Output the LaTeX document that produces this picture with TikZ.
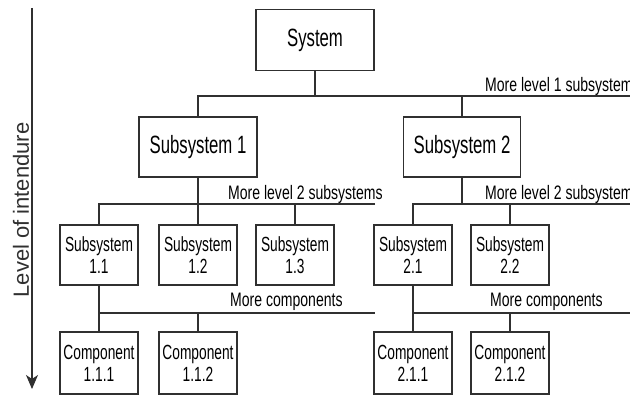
\documentclass[tikz,border=0pt]{standalone}
\usepackage{fontspec}
\setmainfont{Liberation Sans}
\newfontfamily\narrowfont{Liberation Sans}[FakeStretch=0.67]
\newfontfamily\notefont{Liberation Sans}[FakeStretch=0.72]
\usetikzlibrary{arrows.meta}
\definecolor{linec}{HTML}{303030}
\begin{document}
\begin{tikzpicture}[x=1pt,y=-1pt,
  box/.style={draw=linec, line width=1.6pt, fill=white, inner sep=0pt, align=center, text=black},
  bigbox/.style={box, minimum width=118pt, minimum height=61pt,
    font=\narrowfont\fontsize{25}{28}\selectfont},
  smallbox/.style={box, minimum width=78pt, minimum height=60pt,
    font=\narrowfont\fontsize{20.5}{22}\selectfont},
  wire/.style={draw=linec, line width=1.4pt},
  note/.style={font=\notefont\fontsize{19.5}{21}\selectfont, anchor=base west,
    inner sep=0pt, text=black}
]
\useasboundingbox (0,0) rectangle (630,396);
\clip (0,0) rectangle (630,396);

% levels of the hierarchy
\node[bigbox] (sys) at (315,40) {System};
\node[bigbox, minimum height=60pt] (s1) at (198,147) {Subsystem 1};
\node[bigbox, minimum height=60pt, minimum width=117pt] (s2) at (462,147) {Subsystem 2};

\node[smallbox] (s11) at (99,255)  {Subsystem\\1.1};
\node[smallbox] (s12) at (198,255) {Subsystem\\1.2};
\node[smallbox] (s13) at (295,255) {Subsystem\\1.3};
\node[smallbox] (s21) at (413,255) {Subsystem\\2.1};
\node[smallbox] (s22) at (510,255) {Subsystem\\2.2};

\node[smallbox, minimum height=62pt] (c111) at (99,363)  {Component\\1.1.1};
\node[smallbox, minimum height=62pt] (c112) at (198,363) {Component\\1.1.2};
\node[smallbox, minimum height=62pt] (c211) at (413,363) {Component\\2.1.1};
\node[smallbox, minimum height=62pt] (c212) at (510,363) {Component\\2.1.2};

% bus lines
\coordinate (b1L) at (s1.north |- 0,96);
\coordinate (b1R) at (630,96);
\coordinate (b2aL) at (s11.north |- 0,204);
\coordinate (b2aR) at (375,204);
\coordinate (b2bL) at (s21.north |- 0,204);
\coordinate (b2bR) at (630,204);
\coordinate (b3aL) at (s11.south |- 0,313);
\coordinate (b3aR) at (375,313);
\coordinate (b3bL) at (s21.south |- 0,313);
\coordinate (b3bR) at (630,313);

% level 1
\draw[wire] (sys.south) -- (sys.south |- b1L);
\draw[wire] (b1R) -- (b1L) -- (s1.north);
\draw[wire] (s2.north |- b1L) -- (s2.north);

% level 2
\draw[wire] (s1.south) -- (s12.north);
\draw[wire] (b2aR) -- (b2aL) -- (s11.north);
\draw[wire] (s13.north |- b2aL) -- (s13.north);
\draw[wire] (s2.south) -- (s2.south |- b2bL);
\draw[wire] (b2bR) -- (b2bL) -- (s21.north);
\draw[wire] (s22.north |- b2bL) -- (s22.north);

% components
\draw[wire] (s11.south) -- (c111.north);
\draw[wire] (b3aL) -- (b3aR);
\draw[wire] (c112.north |- b3aL) -- (c112.north);
\draw[wire] (s21.south) -- (c211.north);
\draw[wire] (b3bL) -- (b3bR);
\draw[wire] (c212.north |- b3bL) -- (c212.north);

% bus labels
\node[note] (m1)  at (485,92)  {More level 1 subsystems};
\node[note] (m2a) at (228,199) {More level 2 subsystems};
\node[note] (m2b) at (485,199) {More level 2 subsystems};
\node[note] (m3a) at (230,306) {More components};
\node[note] (m3b) at (490,306) {More components};

% axis of intendure
\coordinate (axtop) at (32,8);
\coordinate (axbot) at (32,389);
\draw[draw=linec, line width=1.2pt, -{Stealth[length=14pt,width=12pt,inset=4pt]}] (axtop) -- (axbot);
\node[rotate=90, font=\fontsize{22}{24}\selectfont, text=linec, inner sep=0pt] (lvl) at (21,210) {Level of intendure};
\end{tikzpicture}
\end{document}
